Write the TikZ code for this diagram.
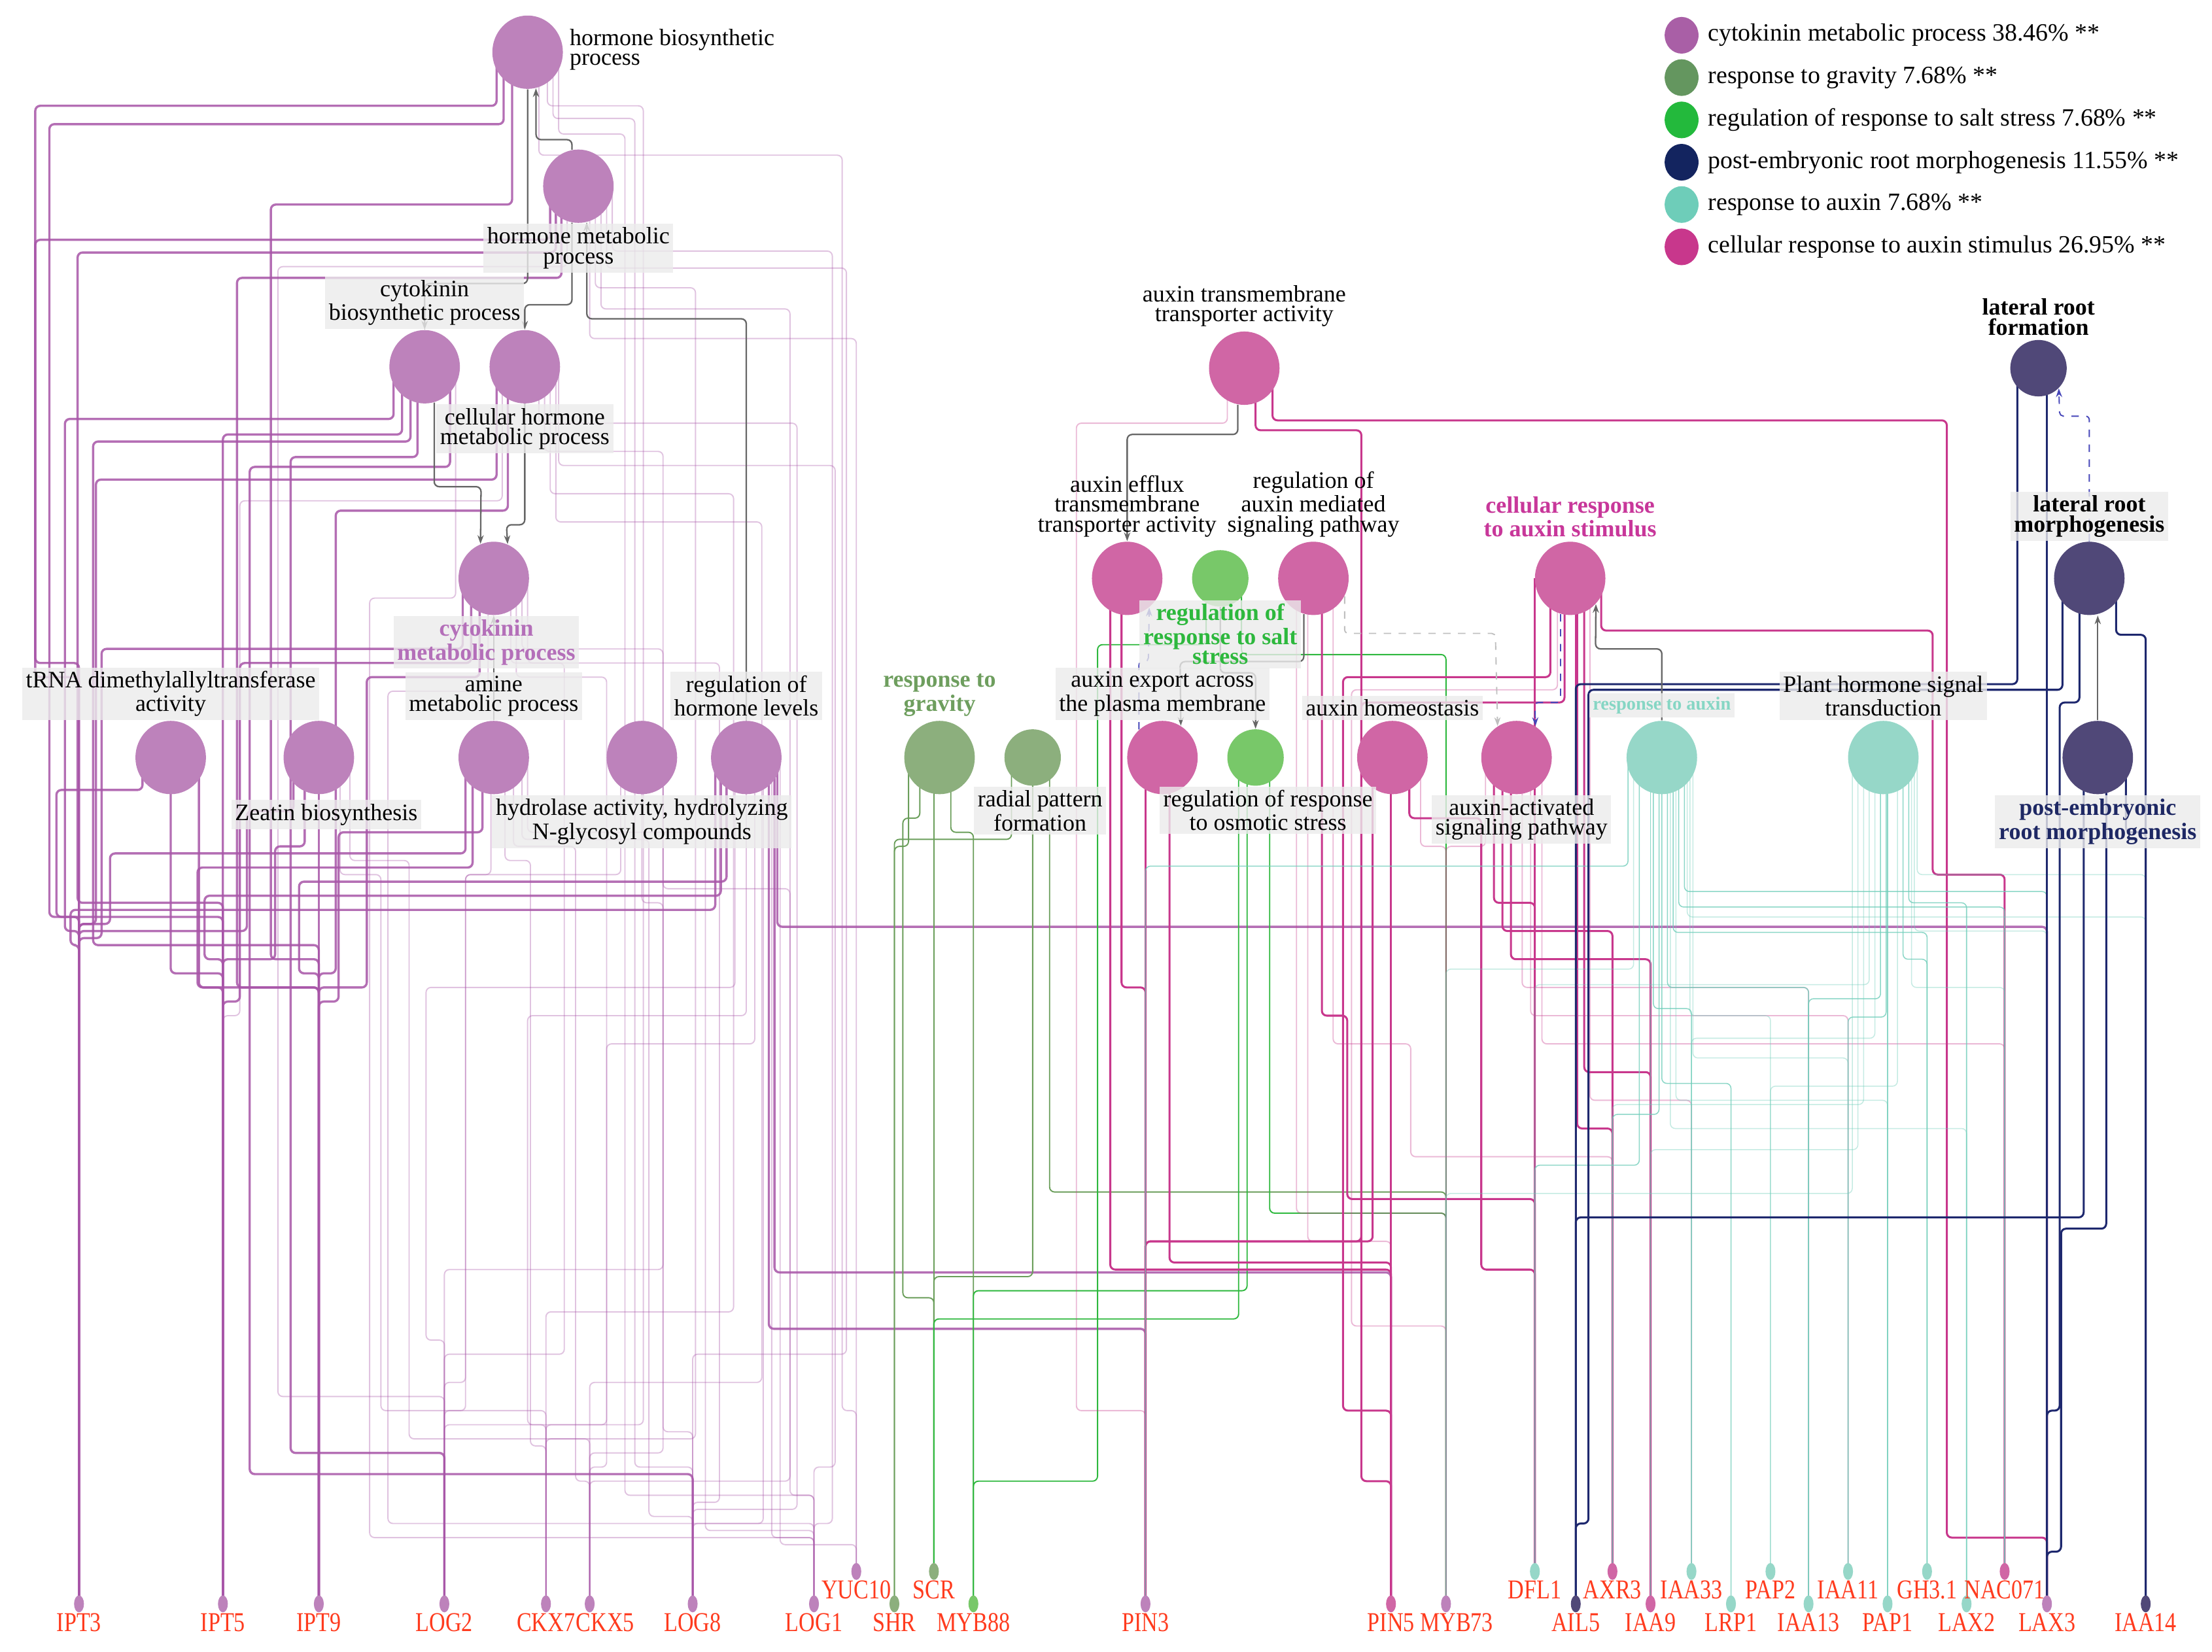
\documentclass[tikz,border=0pt]{standalone}
\usepackage{fontspec}
\setmainfont{Liberation Serif}
\usetikzlibrary{shapes.geometric,positioning,calc,arrows.meta}
\pgfdeclarelayer{bg}
\pgfdeclarelayer{edges}
\pgfsetlayers{bg,edges,main}

\definecolor{cyfill}{HTML}{BD82BB}
\definecolor{cyline}{HTML}{A855A8}
\definecolor{gvfill}{HTML}{8CAF7D}
\definecolor{gvline}{HTML}{6A9E5A}
\definecolor{safill}{HTML}{78C869}
\definecolor{saline}{HTML}{2DB83D}
\definecolor{nvfill}{HTML}{504878}
\definecolor{nvline}{HTML}{1E286E}
\definecolor{aufill}{HTML}{96D7C8}
\definecolor{auline}{HTML}{6ECDB9}
\definecolor{pkfill}{HTML}{D066A5}
\definecolor{pkline}{HTML}{C8378C}
\definecolor{genered}{HTML}{FF3B1E}
\definecolor{boxgray}{HTML}{EBEBEB}
\definecolor{lgcy}{HTML}{A95FA6}
\definecolor{lggv}{HTML}{64965F}
\definecolor{lgsa}{HTML}{23B93C}
\definecolor{lgnv}{HTML}{13245F}
\definecolor{lgau}{HTML}{6ECDB9}
\definecolor{lgpk}{HTML}{C8378C}
\definecolor{cmplab}{HTML}{B46FB9}
\definecolor{gvlab}{HTML}{6E9E5E}
\definecolor{salab}{HTML}{2DB83D}
\definecolor{crlab}{HTML}{C8379A}
\definecolor{aulab}{HTML}{86D6C4}
\definecolor{nvlab}{HTML}{1E2864}

\tikzset{
	term/.style={ellipse, minimum width=1cm, minimum height=1.04cm, inner sep=0pt},
	smallterm/.style={term, minimum width=0.8cm, minimum height=0.8cm},
	legdot/.style={term, minimum width=0.48cm, minimum height=0.52cm},
	gene/.style={ellipse, minimum width=0.14cm, minimum height=0.24cm, inner sep=0pt},
	glab/.style={text=genered, font=\fontsize{9}{9}\selectfont, inner sep=0pt},
	nlab/.style={font=\fontsize{9.5}{8}\selectfont, align=center, inner sep=1.5pt},
	tlab/.style={nlab, fill=boxgray, fill opacity=0.8, text opacity=1},
	blab/.style={font=\fontsize{9.5}{8}\selectfont\bfseries},
	legt/.style={font=\fontsize{10}{10}\selectfont, inner sep=1.5pt},
	link/.style={rounded corners=2pt, line width=0.5pt},
	cy/.style={link, draw=cyline, draw opacity=0.85, line width=0.9pt},
	cyl/.style={link, draw=cyline, draw opacity=0.35},
	gv/.style={link, draw=gvline},
	sa/.style={link, draw=saline},
	pk/.style={link, draw=pkline, line width=0.8pt},
	pkl/.style={link, draw=pkline, draw opacity=0.35},
	au/.style={link, draw=auline, draw opacity=0.8, line width=0.4pt},
	aul/.style={link, draw=auline, draw opacity=0.4, line width=0.4pt},
	nv/.style={link, draw=nvline, line width=0.8pt},
	harrow/.style={link, draw=black!60, line width=0.6pt, -{Stealth[length=3.5pt,width=2.5pt]}},
	darrow/.style={rounded corners=1.5pt, line width=0.5pt, draw=blue!45!gray, dashed, -{Stealth[length=3.5pt,width=2.5pt]}},
	dgarrow/.style={darrow, draw=black!25},
}

\newcommand{\gname}[1]{\scalebox{1}[1.22]{#1}}
\newcommand{\tlink}[5][]{\draw[link,#1] ($(#2.center)+(#3,0)$) |- (#5 |- 0,#4) -- (#5.center);}
\newcommand{\tlinkk}[7][]{\draw[link,#1] ($(#2.center)+(#3,0)$) |- (#5,#4) |- (#7 |- 0,#6) -- (#7.center);}

\begin{document}
\begin{tikzpicture}[x=0.02cm, y=-0.02cm]
		\useasboundingbox (0,0) rectangle (1568,1171);
		\begin{pgfonlayer}{bg}
			\fill[white] (0,0) rectangle (1568,1171);
		\end{pgfonlayer}

		% terms
		\node[term, fill=cyfill] (hbp) at (374,37) {};
		\node[term, fill=cyfill] (hmp) at (410,132) {};
		\node[term, fill=cyfill] (cbp) at (301,260) {};
		\node[term, fill=cyfill] (chmp) at (372,260) {};
		\node[term, fill=cyfill] (cmp) at (350,410) {};
		\node[term, fill=cyfill] (trna) at (121,537) {};
		\node[term, fill=cyfill] (zeat) at (226,537) {};
		\node[term, fill=cyfill] (amine) at (350,537) {};
		\node[term, fill=cyfill] (hydro) at (455,537) {};
		\node[term, fill=cyfill] (rhl) at (529,537) {};
		\node[term, fill=gvfill] (grav) at (666,537) {};
		\node[smallterm, fill=gvfill] (radial) at (732,537) {};
		\node[term, fill=pkfill] (aexp) at (824,537) {};
		\node[smallterm, fill=safill] (osmo) at (890,537) {};
		\node[term, fill=pkfill] (ahom) at (987,537) {};
		\node[term, fill=pkfill] (aasp) at (1075,537) {};
		\node[term, fill=aufill] (raux) at (1178,537) {};
		\node[term, fill=aufill] (phst) at (1335,537) {};
		\node[term, fill=nvfill] (prm) at (1487,537) {};
		\node[term, fill=pkfill] (atta) at (882,261) {};
		\node[term, fill=pkfill] (aeff) at (799,410) {};
		\node[smallterm, fill=safill] (salt) at (865,410) {};
		\node[term, fill=pkfill] (rams) at (931,410) {};
		\node[term, fill=pkfill] (crau) at (1113,410) {};
		\node[smallterm, fill=nvfill] (lrf) at (1445,261) {};
		\node[term, fill=nvfill] (lrm) at (1481,410) {};

		% term labels
		\node[nlab, align=left, right=0.03cm of hbp, yshift=1pt] (hbpL) {hormone biosynthetic\\process};
		\node[tlab, below=0pt of hmp] (hmpL) {hormone metabolic\\process};
		\node[tlab, above=0pt of cbp] (cbpL) {cytokinin\\biosynthetic process};
		\node[tlab, below=0pt of chmp] (chmpL) {cellular hormone\\metabolic process};
		\node[tlab, blab, text=cmplab, below=0pt of cmp, xshift=-3pt] (cmpL) {cytokinin\\metabolic process};
		\node[tlab, above=0pt of trna] (trnaL) {tRNA dimethylallyltransferase\\activity};
		\node[tlab, below=2pt of zeat, xshift=3pt] (zeatL) {Zeatin biosynthesis};
		\node[tlab, above=0pt of amine] (amineL) {amine\\metabolic process};
		\node[tlab, below=0pt of hydro] (hydroL) {hydrolase activity, hydrolyzing\\N-glycosyl compounds};
		\node[tlab, above=0pt of rhl] (rhlL) {regulation of\\hormone levels};
		\node[nlab, blab, text=gvlab, above=0pt of grav] (gravL) {response to\\gravity};
		\node[tlab, below=0pt of radial, xshift=3pt] (radialL) {radial pattern\\formation};
		\node[tlab, above=0pt of aexp] (aexpL) {auxin export across\\the plasma membrane};
		\node[tlab, below=0pt of osmo, xshift=5pt] (osmoL) {regulation of response\\to osmotic stress};
		\node[tlab, above=0pt of ahom] (ahomL) {auxin homeostasis};
		\node[tlab, below=0pt of aasp, xshift=2pt] (aaspL) {auxin-activated\\signaling pathway};
		\node[tlab, text=aulab, font=\fontsize{7.5}{8}\selectfont\bfseries, above=1pt of raux] (rauxL) {response to auxin};
		\node[tlab, above=0pt of phst] (phstL) {Plant hormone signal\\transduction};
		\node[tlab, blab, text=nvlab, below=0pt of prm] (prmL) {post-embryonic\\root morphogenesis};
		\node[nlab, above=0pt of atta] (attaL) {auxin transmembrane\\transporter activity};
		\node[nlab, above=0pt of aeff] (aeffL) {auxin efflux\\transmembrane\\transporter activity};
		\node[tlab, blab, text=salab, below=-3pt of salt] (saltL) {regulation of\\response to salt\\stress};
		\node[nlab, above=0pt of rams] (ramsL) {regulation of\\auxin mediated\\signaling pathway};
		\node[nlab, blab, text=crlab, above=0pt of crau] (crauL) {cellular response\\to auxin stimulus};
		\node[nlab, blab, above=0pt of lrf] (lrfL) {lateral root\\formation};
		\node[tlab, blab, above=0pt of lrm] (lrmL) {lateral root\\morphogenesis};

		% genes
		\node[gene, fill=cyfill, label={[glab]below:\gname{IPT3}}] (gIPT3) at (56,1137) {};
		\node[gene, fill=cyfill, label={[glab]below:\gname{IPT5}}] (gIPT5) at (158,1137) {};
		\node[gene, fill=cyfill, label={[glab]below:\gname{IPT9}}] (gIPT9) at (226,1137) {};
		\node[gene, fill=cyfill, label={[glab]below:\gname{LOG2}}] (gLOG2) at (315,1137) {};
		\node[gene, fill=cyfill, label={[glab]below:\gname{CKX7}}] (gCKX7) at (387,1137) {};
		\node[gene, fill=cyfill, label={[glab, xshift=0.22cm]below:\gname{CKX5}}] (gCKX5) at (418,1137) {};
		\node[gene, fill=cyfill, label={[glab]below:\gname{LOG8}}] (gLOG8) at (491,1137) {};
		\node[gene, fill=cyfill, label={[glab]below:\gname{LOG1}}] (gLOG1) at (577,1137) {};
		\node[gene, fill=cyfill, label={[glab]below:\gname{YUC10}}] (gYUC10) at (607,1114) {};
		\node[gene, fill=gvfill, label={[glab]below:\gname{SHR}}] (gSHR) at (634,1137) {};
		\node[gene, fill=gvfill, label={[glab]below:\gname{SCR}}] (gSCR) at (662,1114) {};
		\node[gene, fill=safill, label={[glab]below:\gname{MYB88}}] (gMYB88) at (690,1137) {};
		\node[gene, fill=cyfill, label={[glab]below:\gname{PIN3}}] (gPIN3) at (812,1137) {};
		\node[gene, fill=pkfill, label={[glab]below:\gname{PIN5}}] (gPIN5) at (986,1137) {};
		\node[gene, fill=cyfill, label={[glab, xshift=0.15cm]below:\gname{MYB73}}] (gMYB73) at (1025,1137) {};
		\node[gene, fill=aufill, label={[glab]below:\gname{DFL1}}] (gDFL1) at (1088,1114) {};
		\node[gene, fill=nvfill, label={[glab]below:\gname{AIL5}}] (gAIL5) at (1117,1137) {};
		\node[gene, fill=pkfill, label={[glab]below:\gname{AXR3}}] (gAXR3) at (1143,1114) {};
		\node[gene, fill=pkfill, label={[glab]below:\gname{IAA9}}] (gIAA9) at (1170,1137) {};
		\node[gene, fill=aufill, label={[glab]below:\gname{IAA33}}] (gIAA33) at (1199,1114) {};
		\node[gene, fill=aufill, label={[glab]below:\gname{LRP1}}] (gLRP1) at (1227,1137) {};
		\node[gene, fill=aufill, label={[glab]below:\gname{PAP2}}] (gPAP2) at (1255,1114) {};
		\node[gene, fill=aufill, label={[glab]below:\gname{IAA13}}] (gIAA13) at (1282,1137) {};
		\node[gene, fill=aufill, label={[glab]below:\gname{IAA11}}] (gIAA11) at (1310,1114) {};
		\node[gene, fill=aufill, label={[glab]below:\gname{PAP1}}] (gPAP1) at (1338,1137) {};
		\node[gene, fill=aufill, label={[glab]below:\gname{GH3.1}}] (gGH31) at (1366,1114) {};
		\node[gene, fill=aufill, label={[glab]below:\gname{LAX2}}] (gLAX2) at (1394,1137) {};
		\node[gene, fill=pkfill, label={[glab]below:\gname{NAC071}}] (gNAC071) at (1421,1114) {};
		\node[gene, fill=cyfill, label={[glab]below:\gname{LAX3}}] (gLAX3) at (1451,1137) {};
		\node[gene, fill=nvfill, label={[glab]below:\gname{IAA14}}] (gIAA14) at (1521,1137) {};

		% legend
		\node[legdot, fill=lgcy] (leg1) at (1192,25) {};
		\node[legdot, fill=lggv] (leg2) at (1192,55) {};
		\node[legdot, fill=lgsa] (leg3) at (1192,85) {};
		\node[legdot, fill=lgnv] (leg4) at (1192,115) {};
		\node[legdot, fill=lgau] (leg5) at (1192,145) {};
		\node[legdot, fill=lgpk] (leg6) at (1192,175) {};
		\node[legt, right=0.07cm of leg1] (leg1t) {cytokinin metabolic process 38.46\% **};
		\node[legt, right=0.07cm of leg2] (leg2t) {response to gravity 7.68\% **};
		\node[legt, right=0.07cm of leg3] (leg3t) {regulation of response to salt stress 7.68\% **};
		\node[legt, right=0.07cm of leg4] (leg4t) {post-embryonic root morphogenesis 11.55\% **};
		\node[legt, right=0.07cm of leg5] (leg5t) {response to auxin 7.68\% **};
		\node[legt, right=0.07cm of leg6] (leg6t) {cellular response to auxin stimulus 26.95\% **};

		\begin{pgfonlayer}{edges}
		% cytokinin group
		\tlinkk[cy]{hbp}{-22}{75}{25}{470}{gIPT3}
		\tlinkk[cy]{hbp}{-17}{88}{35}{650}{gIPT5}
		\tlinkk[cy]{hbp}{-11}{145}{192}{680}{gIPT9}
		\tlinkk[cyl]{hbp}{14}{75}{456}{1010}{gLOG2}
		\tlinkk[cyl]{hbp}{18}{84}{450}{1040}{gLOG8}
		\tlinkk[cyl]{hbp}{22}{95}{443}{1060}{gLOG1}
		\tlinkk[cyl]{hbp}{8}{110}{597}{1000}{gYUC10}

		\tlinkk[cy]{hmp}{-20}{170}{25}{480}{gIPT3}
		\tlinkk[cy]{hmp}{-16}{179}{55}{640}{gIPT5}
		\tlinkk[cy]{hmp}{-12}{197}{168}{700}{gIPT9}
		\tlinkk[cyl]{hmp}{-8}{189}{197}{990}{gLOG2}
		\tlinkk[cyl]{hmp}{12}{204}{493}{1020}{gCKX7}
		\tlinkk[cyl]{hmp}{16}{219}{560}{1050}{gCKX5}
		\tlinkk[cyl]{hmp}{20}{190}{600}{960}{gLOG8}
		\tlinkk[cyl]{hmp}{24}{178}{590}{1080}{gLOG1}
		\tlink[cyl]{hmp}{8}{240}{gYUC10}

		\tlinkk[cy]{cbp}{-22}{297}{46}{660}{gIPT3}
		\tlink[cy]{cbp}{-16}{308}{gIPT5}
		\tlinkk[cy]{cbp}{-10}{313}{66}{670}{gIPT9}
		\tlinkk[cy]{cbp}{-5}{324}{206}{1030}{gLOG2}
		\tlinkk[cy]{cbp}{18}{331}{177}{1045}{gLOG8}
		\tlinkk[cyl]{cbp}{22}{424}{262}{1090}{gLOG1}

		\tlinkk[cy]{chmp}{-20}{340}{68}{655}{gIPT3}
		\tlinkk[cyl]{chmp}{-16}{355}{170}{720}{gIPT5}
		\tlinkk[cy]{chmp}{-12}{362}{238}{690}{gIPT9}
		\tlinkk[cyl]{chmp}{14}{320}{470}{900}{gLOG2}
		\tlinkk[cyl]{chmp}{18}{350}{520}{930}{gCKX7}
		\tlinkk[cyl]{chmp}{22}{370}{540}{980}{gCKX5}
		\tlinkk[cyl]{chmp}{10}{300}{565}{1070}{gLOG8}
		\tlinkk[cyl]{chmp}{24}{330}{592}{1040}{gLOG1}

		\tlinkk[cy]{cmp}{-22}{460}{72}{665}{gIPT3}
		\tlinkk[cy]{cmp}{-16}{470}{170}{710}{gIPT5}
		\tlinkk[cy]{cmp}{-10}{480}{260}{700}{gIPT9}
		\tlinkk[cyl]{cmp}{12}{470}{400}{960}{gLOG2}
		\tlinkk[cyl]{cmp}{16}{480}{430}{1010}{gCKX7}
		\tlinkk[cyl]{cmp}{20}{460}{470}{1030}{gCKX5}
		\tlinkk[cyl]{cmp}{24}{470}{510}{1065}{gLOG8}
		\tlinkk[cyl]{cmp}{-4}{490}{275}{1080}{gLOG1}

		\tlinkk[cy]{trna}{-20}{560}{40}{650}{gIPT3}
		\tlink[cy]{trna}{0}{690}{gIPT5}
		\tlink[cy]{trna}{20}{700}{gIPT9}

		\tlinkk[cy]{zeat}{-18}{575}{175}{660}{gIPT3}
		\tlinkk[cy]{zeat}{-10}{600}{195}{680}{gIPT5}
		\draw[cy] (zeat.center) -- (gIPT9.center);
		\tlinkk[cyl]{zeat}{15}{620}{270}{1000}{gCKX7}
		\tlinkk[cyl]{zeat}{22}{610}{290}{1020}{gCKX5}

		\tlinkk[cy]{amine}{-20}{605}{78}{655}{gIPT3}
		\tlinkk[cy]{amine}{-15}{615}{140}{700}{gIPT5}
		\tlinkk[cy]{amine}{-8}{590}{240}{710}{gIPT9}
		\tlinkk[cyl]{amine}{-2}{620}{330}{1000}{gLOG2}
		\tlinkk[cyl]{amine}{8}{610}{376}{1025}{gCKX7}
		\tlinkk[cyl]{amine}{14}{600}{408}{1050}{gCKX5}
		\tlinkk[cyl]{amine}{20}{595}{460}{1075}{gLOG8}
		\tlinkk[cyl]{amine}{24}{590}{500}{1085}{gLOG1}

		\tlinkk[cyl]{hydro}{-15}{620}{330}{980}{gLOG2}
		\tlinkk[cyl]{hydro}{0}{640}{470}{1015}{gLOG8}
		\tlinkk[cyl]{hydro}{15}{630}{560}{1060}{gLOG1}

		\tlinkk[cy]{rhl}{-22}{645}{50}{670}{gIPT3}
		\tlinkk[cy]{rhl}{-18}{635}{145}{680}{gIPT5}
		\tlinkk[cy]{rhl}{-14}{625}{212}{690}{gIPT9}
		\tlinkk[cyl]{rhl}{-8}{700}{302}{950}{gLOG2}
		\tlinkk[cyl]{rhl}{0}{720}{374}{1010}{gCKX7}
		\tlinkk[cyl]{rhl}{6}{740}{430}{1040}{gCKX5}
		\tlink[cyl]{rhl}{12}{1080}{gLOG8}
		\tlink[cyl]{rhl}{18}{1090}{gLOG1}
		\tlink[cyl]{rhl}{24}{1095}{gYUC10}
		\tlink[cy]{rhl}{22}{657}{gLAX3}
		\tlink[cy]{rhl}{20}{902}{gPIN5}
		\tlink[cy]{rhl}{16}{942}{gPIN3}

		% gravity and salt
		\tlink[gv]{grav}{-22}{600}{gSHR}
		\tlinkk[gv]{grav}{-14}{580}{640}{920}{gSCR}
		\draw[gv] ($(grav.center)+(-4,0)$) -- (gSCR.center);
		\tlink[gv]{grav}{8}{590}{gMYB88}
		\tlink[gv]{radial}{-15}{595}{gSHR}
		\tlink[gv]{radial}{0}{905}{gSCR}
		\tlink[gv]{radial}{12}{845}{gMYB73}
		\tlinkk[sa]{salt}{-10}{457}{778}{1050}{gMYB88}
		\tlink[sa]{salt}{15}{464}{gMYB73}
		\tlink[sa]{osmo}{-12}{935}{gSCR}
		\tlink[sa]{osmo}{-6}{915}{gMYB88}
		\tlink[sa]{osmo}{10}{860}{gMYB73}

		% auxin stimulus group
		\tlinkk[pkl]{atta}{-12}{300}{763}{1000}{gPIN3}
		\tlinkk[pk]{atta}{8}{305}{965}{1050}{gPIN5}
		\tlinkk[pk]{atta}{20}{298}{1380}{1090}{gLAX3}
		\tlink[pk]{aeff}{-12}{900}{gPIN5}
		\tlink[pk]{aeff}{-4}{700}{gPIN3}
		\draw[pk] ($(aexp.center)+(-12,0)$) -- (gPIN3.center);
		\tlink[pk]{aexp}{5}{895}{gPIN5}
		\tlink[pkl]{rams}{-12}{860}{gMYB73}
		\tlinkk[pk]{rams}{6}{720}{955}{850}{gDFL1}
		\tlinkk[pkl]{rams}{14}{740}{1000}{820}{gAXR3}
		\tlink[pkl]{rams}{-4}{880}{gPIN5}
		\draw[pk] ($(ahom.center)+(-1,0)$) -- (gPIN5.center);
		\tlink[pk]{ahom}{-14}{880}{gPIN3}
		\tlinkk[pk]{ahom}{12}{580}{1050}{900}{gDFL1}
		\tlink[pkl]{ahom}{20}{600}{gMYB73}
		\tlink[pk]{aasp}{-16}{640}{gDFL1}
		\tlink[pk]{aasp}{-10}{660}{gAXR3}
		\tlink[pk]{aasp}{-4}{680}{gIAA9}
		\tlink[pkl]{aasp}{4}{700}{gIAA13}
		\tlink[pkl]{aasp}{10}{720}{gIAA11}
		\tlink[pkl]{aasp}{18}{740}{gNAC071}
		\tlink[pkl]{aasp}{-22}{600}{gMYB73}
		\tlinkk[pk]{crau}{-14}{480}{952}{1000}{gPIN5}
		\tlinkk[pkl]{crau}{-9}{489}{958}{940}{gMYB73}
		\tlinkk[pk]{crau}{-4}{498}{965}{880}{gPIN3}
		\draw[pk] ($(crau.center)+(-25,0)$) -- (gDFL1.center);
		\tlink[pk]{crau}{5}{800}{gAXR3}
		\tlink[pk]{crau}{10}{760}{gIAA9}
		\tlink[pkl]{crau}{14}{780}{gIAA33}
		\draw[pk] ($(crau.center)+(4,0)$) -- (gAIL5.center);
		\tlinkk[pk]{crau}{22}{447}{1370}{620}{gNAC071}

		% response to auxin
		\tlink[au]{raux}{-24}{614}{gPIN3}
		\tlink[aul]{raux}{-20}{687}{gMYB73}
		\tlink[au]{raux}{-16}{826}{gDFL1}
		\draw[au] ($(raux.center)+(-8,0)$) -- (gIAA9.center);
		\tlink[au]{raux}{-6}{715}{gIAA33}
		\tlink[au]{raux}{0}{768}{gLRP1}
		\tlink[au]{raux}{4}{700}{gIAA13}
		\tlink[au]{raux}{8}{661}{gGH31}
		\tlink[au]{raux}{12}{643}{gNAC071}
		\tlink[au]{raux}{16}{632}{gLAX3}
		\tlink[aul]{raux}{20}{720}{gPAP2}
		\tlink[aul]{raux}{22}{750}{gIAA11}
		\tlink[au]{raux}{-2}{790}{gAXR3}
		\tlink[aul]{raux}{6}{800}{gLAX2}
		\tlink[aul]{raux}{10}{780}{gPAP1}
		\tlink[aul]{raux}{18}{650}{gIAA14}
		\tlink[aul]{phst}{-22}{846}{gMYB73}
		\tlink[aul]{phst}{-18}{815}{gIAA9}
		\tlink[aul]{phst}{-14}{783}{gAXR3}
		\tlink[aul]{phst}{-10}{698}{gDFL1}
		\tlink[aul]{phst}{-6}{736}{gIAA33}
		\tlink[au]{phst}{-2}{708}{gIAA13}
		\tlink[au]{phst}{2}{721}{gIAA11}
		\draw[au] ($(phst.center)+(3,0)$) -- (gPAP1.center);
		\tlink[aul]{phst}{10}{770}{gPAP2}
		\tlink[au]{phst}{14}{680}{gGH31}
		\tlink[au]{phst}{18}{640}{gLAX2}
		\tlink[aul]{phst}{22}{660}{gLAX3}
		\tlink[aul]{phst}{24}{620}{gIAA14}
		\tlink[aul]{phst}{20}{700}{gNAC071}

		% root morphogenesis
		\tlink[nv]{lrf}{-15}{485}{gAIL5}
		\draw[nv] ($(lrf.center)+(6,0)$) -- (gLAX3.center);
		\tlinkk[nv]{lrm}{-19}{489}{1126}{1080}{gAIL5}
		\tlinkk[nv]{lrm}{-7}{498}{1460}{1000}{gLAX3}
		\tlink[nv]{lrm}{19}{450}{gIAA14}
		\tlink[nv]{prm}{-10}{863}{gAIL5}
		\tlinkk[nv]{prm}{6}{871}{1461}{1100}{gLAX3}
		\tlink[nv]{prm}{20}{590}{gIAA14}

		% term to term
		\draw[harrow] (hmp.100) |- (380,99) -- (hbp.-77);
		\draw[harrow] (hbp.south) |- (301,201) -- (cbp.north);
		\draw[harrow] (hmp.-100) |- (372,216) -- (chmp.north);
		\draw[harrow] (rhl.north) |- (416,226) -- (hmp.-77);
		\draw[harrow] (cbp.-75) |- (341,345) -- (cmp.111);
		\draw[harrow] (chmp.south) |- (359,372) -- (cmp.68);
		\draw[harrow] (amine.north) -- (cmp.south);
		\draw[harrow] (atta.-100) |- (799,308) -- (aeff.north);
		\draw[harrow] (salt.south) |- (890,477) -- (osmo.north);
		\draw[harrow] (rams.-105) |- (836.5,469) -- (aexp.60);
		\draw[harrow] (raux.north) |- (1131,460) -- (crau.-45);
		\draw[harrow] (prm.north) -- (prm.north |- lrm.south);
		\draw[darrow] (crau.-105) |- (1088,498) -- (aasp.59);
		\draw[darrow] (aexp.130) |- (814,469) -- (aeff.-53);
		\draw[dgarrow] (rams.-30) |- (1060,449) -- (aasp.121);
		\draw[darrow] (lrm.north) |- (1460,295) -- (lrf.-45);
		\end{pgfonlayer}
\end{tikzpicture}
\end{document}
